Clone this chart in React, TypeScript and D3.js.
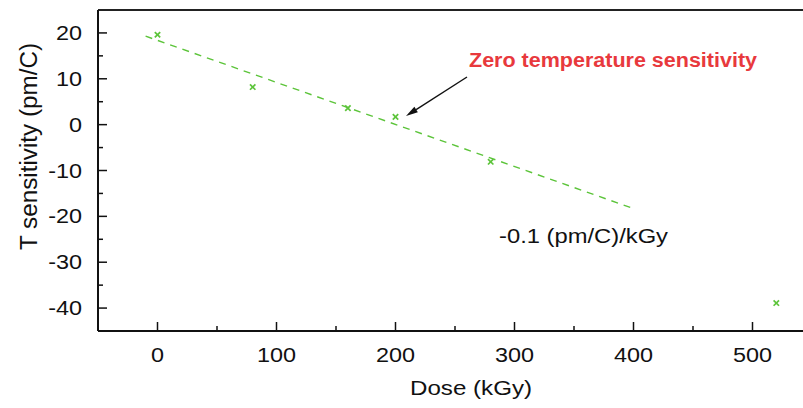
import React from "react";
import * as d3 from "d3";

const doses = [0, 80, 160, 200, 280, 520];
const sensitivities = [19.6, 8.2, 3.6, 1.7, -8.1, -38.9];
const fitDose = [-10, 400];
const fitSens = [19.3, -18.3];
const xTicks = [0, 100, 200, 300, 400, 500];
const yTicks = [20, 10, 0, -10, -20, -30, -40];
const xMinor = [-50, 50, 150, 250, 350, 450, 550];
const yMinor = [15, 5, -5, -15, -25, -35];

const W = 803;
const H = 408;
const left = 98;
const top = 10;
const bottom = 331;
const right = 812;

export default function App() {
  const x = d3.scaleLinear().domain([-50, 550]).range([left, right]);
  const y = d3.scaleLinear().domain([-45, 25]).range([bottom, top]);
  const green = "#5cc43a";
  const font = "'Liberation Sans', Arial, sans-serif";
  const line = d3
    .line<number>()
    .x((_, i) => x(fitDose[i]))
    .y((d) => y(d));
  const ax0 = 467, ay0 = 77, ax1 = 406, ay1 = 116;
  const ang = Math.atan2(ay1 - ay0, ax1 - ax0);
  const hl = 12, hw = 3.2;
  const bx = ax1 - hl * Math.cos(ang), by = ay1 - hl * Math.sin(ang);
  const head = [
    [ax1, ay1],
    [bx + hw * Math.sin(ang), by - hw * Math.cos(ang)],
    [bx - hw * Math.sin(ang), by + hw * Math.cos(ang)],
  ];
  const sx = 1.2;
  return (
    <svg width={W} height={H} style={{ position: "absolute", left: 0, top: 0, background: "#fff" }} fontFamily={font}>
      <rect width={W} height={H} fill="#fff" />
      {/* fit line */}
      <path d={line(fitSens) || ""} fill="none" stroke={green} strokeWidth={1.4} strokeDasharray="7,6" />
      {/* points */}
      {doses.map((d, i) => {
        const cx = x(d), cy = y(sensitivities[i]);
        const s = 2.7;
        return (
          <g key={i} stroke={green} strokeWidth={1.7}>
            <line x1={cx - s} y1={cy - s} x2={cx + s} y2={cy + s} />
            <line x1={cx - s} y1={cy + s} x2={cx + s} y2={cy - s} />
          </g>
        );
      })}
      {/* axes */}
      <line x1={left} y1={top} x2={W} y2={top} stroke="#222" strokeWidth={2} />
      <line x1={left} y1={bottom} x2={W} y2={bottom} stroke="#111" strokeWidth={2} />
      <line x1={left} y1={top} x2={left} y2={bottom} stroke="#111" strokeWidth={2} />
      {xTicks.map((t) => (
        <g key={t}>
          <line x1={x(t)} x2={x(t)} y1={bottom} y2={bottom - 9} stroke="#111" strokeWidth={1.5} />
          <text transform={`translate(${x(t)},362) scale(${sx},1)`} textAnchor="middle" fontSize={19.5} fill="#111">{t}</text>
        </g>
      ))}
      {xMinor.map((t) => (
        <line key={t} x1={x(t)} x2={x(t)} y1={bottom} y2={bottom - 5} stroke="#111" strokeWidth={1.5} />
      ))}
      {yTicks.map((t) => (
        <g key={t}>
          <line x1={left} x2={left + 9} y1={y(t)} y2={y(t)} stroke="#111" strokeWidth={1.5} />
          <text transform={`translate(82,${y(t) + 7}) scale(${sx},1)`} textAnchor="end" fontSize={19.5} fill="#111">{t}</text>
        </g>
      ))}
      {yMinor.map((t) => (
        <line key={t} x1={left} x2={left + 5} y1={y(t)} y2={y(t)} stroke="#111" strokeWidth={1.5} />
      ))}
      <text x={410} y={395} fontSize={20.5} fill="#111" textLength={122} lengthAdjust="spacingAndGlyphs">Dose (kGy)</text>
      <text transform={`translate(37,250) rotate(-90)`} fontSize={23} fill="#111" textLength={207} lengthAdjust="spacingAndGlyphs">
        T sensitivity (pm/C)
      </text>
      {/* annotations */}
      <text x={469} y={67} fontSize={20} fontWeight="bold" fill="#e8393d" textLength={288} lengthAdjust="spacingAndGlyphs">
        Zero temperature sensitivity
      </text>
      <line x1={ax0} y1={ay0} x2={bx} y2={by} stroke="#111" strokeWidth={1.4} />
      <polygon points={head.map((p) => p.join(",")).join(" ")} fill="#111" />
      <text x={499} y={243} fontSize={20.5} fill="#111" textLength={169} lengthAdjust="spacingAndGlyphs">-0.1 (pm/C)/kGy</text>
    </svg>
  );
}
